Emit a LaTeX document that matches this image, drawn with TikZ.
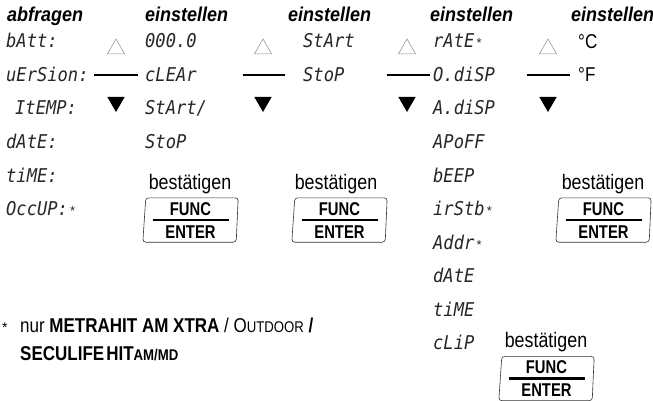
\documentclass[tikz,border=0pt]{standalone}
\usepackage{fontspec}
\setmainfont{Liberation Sans}
\newfontfamily\segfont[FakeStretch=0.9]{DejaVu Sans Mono}
\newfontfamily\condfont[FakeStretch=0.85]{Liberation Sans}
\newfontfamily\headfont[FakeStretch=0.9]{Liberation Sans}
\newfontfamily\keyfont[FakeStretch=0.8]{Liberation Sans}
\usetikzlibrary{shapes.geometric,calc}
\newcommand\fsc[1]{{\fontsize{15.5}{16}\selectfont #1}}
\newcommand\smstar{{\normalfont\fontsize{13}{14}\selectfont\,*}}
\tikzset{
 head/.style={anchor=base west,inner sep=0pt,font=\fontsize{20}{22}\headfont\bfseries\itshape},
 seg/.style={anchor=base west,inner sep=0pt,text=black!85,font=\fontsize{19}{21}\segfont\itshape},
 plain/.style={anchor=base west,inner sep=0pt,font=\fontsize{20}{22}\condfont},
 confirm/.style={anchor=base,inner sep=0pt,font=\fontsize{21}{23}\condfont},
 btn/.style={minimum width=95pt,minimum height=44pt,inner sep=0pt},
 btnframe/.style={draw=black!80,line width=0.6pt,rounded corners=3pt},
 key/.style={inner sep=0pt,font=\fontsize{18.5}{19}\keyfont\bfseries},
 up/.style={regular polygon,regular polygon sides=3,draw=black!45,line width=0.5pt,minimum size=20pt,inner sep=0pt},
 down/.style={regular polygon,regular polygon sides=3,shape border rotate=180,fill=black,minimum size=20pt,inner sep=0pt},
 sepline/.style={line width=2.5pt},
}
\newcommand\funcbtn[2]{%
 \node[btn] (#1) at (#2) {};
 \draw[btnframe] ($(#1.north west)+(3,0)$) -- (#1.north east) -- ($(#1.south east)+(-2,0)$) -- (#1.south west) -- cycle;
 \node[key] (#1f) at ($(#1)+(0,-11)$) {FUNC};
 \node[key] (#1e) at ($(#1)+(0,12)$) {ENTER};
 \coordinate (#1l) at ($(#1)+(-38,0)$);
 \coordinate (#1r) at ($(#1)+(38,0)$);
 \draw[sepline] (#1l) -- (#1r);
}
\newcommand\updown[4]{% name, x, line from, line to
 \node[up] (#1u) at (#2,49) {};
 \node[down] (#1d) at (#2,102) {};
 \coordinate (#1a) at (#3,75);
 \coordinate (#1b) at (#4,75);
 \draw[sepline] (#1a) -- (#1b);
}
\begin{document}
\begin{tikzpicture}[x=1pt,y=-1pt]
\useasboundingbox (0,0) rectangle (653,401);
% headings
\node[head] (h1) at (7,22) {abfragen};
\node[head] (h2) at (145,22) {einstellen};
\node[head] (h3) at (288,22) {einstellen};
\node[head] (h4) at (430,22) {einstellen};
\node[head] (h5) at (571,22) {einstellen};
% column 1
\node[seg] (a1) at (6,48) {bAtt:};
\node[seg] (a2) at (6,81.5) {uErSion:};
\node[seg] (a3) at (15,115) {ItEMP:};
\node[seg] (a4) at (6,148.5) {dAtE:};
\node[seg] (a5) at (6,182) {tiME:};
\node[seg] (a6) at (6,215.5) {OccUP:\smstar};
% column 2
\node[seg] (b1) at (145,48) {000.0};
\node[seg] (b2) at (145,81.5) {cLEAr};
\node[seg] (b3) at (145,115) {StArt/};
\node[seg] (b4) at (145,148.5) {StoP};
% column 3
\node[seg] (c1) at (303,48) {StArt};
\node[seg] (c2) at (303,81.5) {StoP};
% column 4
\node[seg] (d1) at (433,48) {rAtE\smstar};
\node[seg] (d2) at (433,81.5) {O.diSP};
\node[seg] (d3) at (433,115) {A.diSP};
\node[seg] (d4) at (433,148.5) {APoFF};
\node[seg] (d5) at (433,182) {bEEP};
\node[seg] (d6) at (433,215.5) {irStb\smstar};
\node[seg] (d7) at (433,249) {Addr\smstar};
\node[seg] (d8) at (433,282.5) {dAtE};
\node[seg] (d9) at (433,316) {tiME};
\node[seg] (d10) at (433,349.5) {cLiP};
% column 5
\node[plain] (e1) at (578,49) {°C};
\node[plain] (e2) at (578,82) {°F};
% arrows
\updown{s1}{116}{94}{138}
\updown{s2}{263}{243}{285}
\updown{s3}{407}{387}{430}
\updown{s4}{548}{527}{570}
% confirm
\node[confirm] (k1) at (190,189) {bestätigen};
\node[confirm] (k2) at (336,189) {bestätigen};
\node[confirm] (k3) at (603,189) {bestätigen};
\node[confirm] (k4) at (546,347) {bestätigen};
\funcbtn{f1}{190.5,220}
\funcbtn{f2}{339.5,220}
\funcbtn{f3}{603.5,220}
\funcbtn{f4}{546.5,378.5}
% footnote
\node[anchor=base west,inner sep=0pt,font=\fontsize{14}{15}\selectfont] (fs) at (2,332) {*};
\node[plain] (fn1) at (20,332) {nur \textbf{METRAHIT AM XTRA} / O\fsc{UTDOOR} \textbf{/}};
\node[plain] (fn2) at (20,360) {\textbf{SECULIFE\hspace{2pt}HIT\fsc{AM/MD}}};
\end{tikzpicture}
\end{document}
